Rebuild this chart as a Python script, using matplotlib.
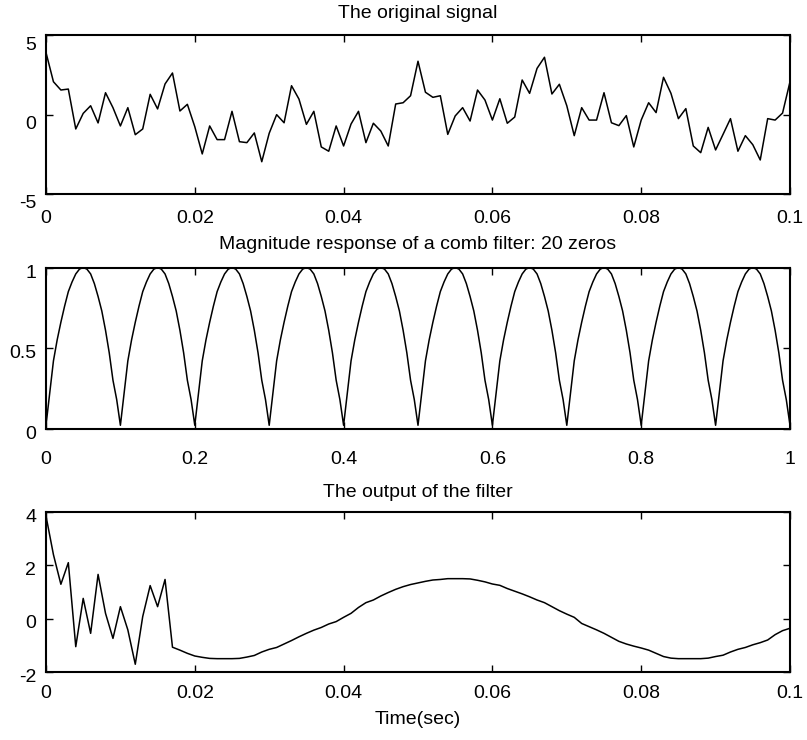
import matplotlib
matplotlib.use("Agg")
import matplotlib.pyplot as plt
import matplotlib.transforms as mtransforms
import numpy as np

# Sampled input signal (fs = 1000 Hz, 0 .. 0.1 s)
signal_values = [
    3.9, 2.06, 1.54, 1.6, -0.91, 0.07, 0.55, -0.53, 1.37, 0.43,
    -0.72, 0.43, -1.27, -0.91, 1.27, 0.35, 1.92, 2.61, 0.22, 0.64,
    -0.77, -2.48, -0.72, -1.58, -1.58, 0.2, -1.71, -1.77, -1.16, -2.97,
    -1.18, -0.01, -0.52, 1.81, 0.97, -0.62, 0.2, -2.04, -2.31, -0.72,
    -1.98, -0.6, 0.2, -1.77, -0.55, -1.04, -1.98, 0.66, 0.74, 1.18,
    3.35, 1.4, 1.08, 1.18, -1.25, -0.09, 0.43, -0.41, 1.54, 0.91,
    -0.35, 0.99, -0.55, -0.16, 2.17, 1.33, 2.9, 3.6, 1.29, 1.9,
    0.55, -1.33, 0.43, -0.35, -0.35, 1.37, -0.52, -0.7, -0.07, -2.04,
    -0.35, 0.74, 0.12, 2.34, 1.33, -0.26, 0.37, -1.98, -2.4, -0.81,
    -2.23, -1.25, -0.26, -2.31, -1.33, -1.9, -2.86, -0.26, -0.35, 0.09,
    2.06,
]

# Comb filter magnitude response on a normalised frequency grid 0 .. 1
# (step 0.005, one lobe of 20 samples per row)
response_values = [
    0.02, 0.22, 0.42, 0.55, 0.66, 0.76, 0.85, 0.91, 0.96, 0.99, 1.0, 0.99, 0.96, 0.90, 0.82, 0.73, 0.61, 0.47, 0.30, 0.18,
    0.02, 0.22, 0.42, 0.55, 0.66, 0.76, 0.85, 0.91, 0.96, 0.99, 1.0, 0.99, 0.96, 0.90, 0.82, 0.73, 0.61, 0.47, 0.30, 0.18,
    0.02, 0.22, 0.42, 0.55, 0.66, 0.76, 0.85, 0.91, 0.96, 0.99, 1.0, 0.99, 0.96, 0.90, 0.82, 0.73, 0.61, 0.47, 0.30, 0.18,
    0.02, 0.22, 0.42, 0.55, 0.66, 0.76, 0.85, 0.91, 0.96, 0.99, 1.0, 0.99, 0.96, 0.90, 0.82, 0.73, 0.61, 0.47, 0.30, 0.18,
    0.02, 0.22, 0.42, 0.55, 0.66, 0.76, 0.85, 0.91, 0.96, 0.99, 1.0, 0.99, 0.96, 0.90, 0.82, 0.73, 0.61, 0.47, 0.30, 0.18,
    0.02, 0.22, 0.42, 0.55, 0.66, 0.76, 0.85, 0.91, 0.96, 0.99, 1.0, 0.99, 0.96, 0.90, 0.82, 0.73, 0.61, 0.47, 0.30, 0.18,
    0.02, 0.22, 0.42, 0.55, 0.66, 0.76, 0.85, 0.91, 0.96, 0.99, 1.0, 0.99, 0.96, 0.90, 0.82, 0.73, 0.61, 0.47, 0.30, 0.18,
    0.02, 0.22, 0.42, 0.55, 0.66, 0.76, 0.85, 0.91, 0.96, 0.99, 1.0, 0.99, 0.96, 0.90, 0.82, 0.73, 0.61, 0.47, 0.30, 0.18,
    0.02, 0.22, 0.42, 0.55, 0.66, 0.76, 0.85, 0.91, 0.96, 0.99, 1.0, 0.99, 0.96, 0.90, 0.82, 0.73, 0.61, 0.47, 0.30, 0.18,
    0.02, 0.22, 0.42, 0.55, 0.66, 0.76, 0.85, 0.91, 0.96, 0.99, 1.0, 0.99, 0.96, 0.90, 0.82, 0.73, 0.61, 0.47, 0.30, 0.18,
    0.02,
]

# Filtered output signal
output_values = [
    3.85, 2.4, 1.29, 2.1, -1.05, 0.76, -0.55, 1.66, 0.2, -0.74,
    0.45, -0.42, -1.71, 0.08, 1.24, 0.45, 1.47, -1.07, -1.18, -1.3,
    -1.4, -1.45, -1.49, -1.5, -1.5, -1.5, -1.49, -1.44, -1.38, -1.25,
    -1.15, -1.08, -0.95, -0.82, -0.68, -0.55, -0.43, -0.33, -0.2, -0.11,
    0.05, 0.2, 0.42, 0.6, 0.7, 0.85, 0.98, 1.1, 1.2, 1.28,
    1.34, 1.4, 1.45, 1.47, 1.5, 1.5, 1.5, 1.49, 1.44, 1.38,
    1.3, 1.25, 1.13, 1.03, 0.93, 0.82, 0.7, 0.6, 0.45, 0.3,
    0.17, 0.05, -0.18, -0.3, -0.42, -0.55, -0.7, -0.85, -0.95, -1.03,
    -1.1, -1.18, -1.3, -1.42, -1.48, -1.5, -1.5, -1.5, -1.5, -1.48,
    -1.42, -1.37, -1.25, -1.15, -1.08, -0.98, -0.9, -0.8, -0.6, -0.45,
    -0.36,
]

t_ticks = [0, 0.02, 0.04, 0.06, 0.08, 0.1]
t_labels = ["0", "0.02", "0.04", "0.06", "0.08", "0.1"]
f_ticks = [0, 0.2, 0.4, 0.6, 0.8, 1.0]
f_labels = ["0", "0.2", "0.4", "0.6", "0.8", "1"]

plt.rcParams["font.family"] = ["Liberation Sans", "DejaVu Sans"]
FS = 14

fig = plt.figure(figsize=(8.07, 7.40), dpi=100)
W, H = 807.0, 740.0


def make_axes(top_px, bottom_px):
    left, right = 46.0, 790.0
    return fig.add_axes([left / W, 1 - bottom_px / H,
                         (right - left) / W, (bottom_px - top_px) / H])


def style(ax, xpad, ydrop):
    for sp in ax.spines.values():
        sp.set_linewidth(1.5)
    ax.tick_params(direction="in", length=5, width=1.0, top=True, right=True,
                   labelsize=FS, colors="black")
    ax.tick_params(axis="x", pad=xpad)
    ax.tick_params(axis="y", pad=7)
    shift = mtransforms.ScaledTranslation(0, -ydrop / 100.0, fig.dpi_scale_trans)
    for lab in ax.get_yticklabels():
        lab.set_transform(lab.get_transform() + shift)


t_sig = np.arange(len(signal_values)) / 1000.0
t_out = np.arange(len(output_values)) / 1000.0
freq = np.linspace(0, 1, len(response_values))

ax1 = make_axes(35, 194)
ax1.plot(t_sig, signal_values, color="black", lw=1.1)
ax1.set_xlim(0, 0.1)
ax1.set_ylim(-5, 5)
ax1.set_xticks(t_ticks, t_labels)
ax1.set_yticks([-5, 0, 5], ["-5", "0", "5"])
ax1.set_title("The original signal", fontsize=FS, pad=12)
style(ax1, xpad=11.5, ydrop=8)

ax2 = make_axes(267.5, 428.5)
ax2.plot(freq, response_values, color="black", lw=1.1)
ax2.set_xlim(0, 1)
ax2.set_ylim(0, 1)
ax2.set_xticks(f_ticks, f_labels)
ax2.set_yticks([0, 0.5, 1], ["0", "0.5", "1"])
ax2.set_title("Magnitude response of a comb filter: 20 zeros", fontsize=FS, pad=13.5)
style(ax2, xpad=16, ydrop=4)

ax3 = make_axes(512, 672)
ax3.plot(t_out, output_values, color="black", lw=1.1)
ax3.set_xlim(0, 0.1)
ax3.set_ylim(-2, 4)
ax3.set_xticks(t_ticks, t_labels)
ax3.set_yticks([-2, 0, 2, 4], ["-2", "0", "2", "4"])
ax3.set_title("The output of the filter", fontsize=FS, pad=11)
ax3.set_xlabel("Time(sec)", fontsize=FS, labelpad=6)
style(ax3, xpad=9.5, ydrop=3)

fig.savefig("out.png", dpi=100, facecolor="white")
